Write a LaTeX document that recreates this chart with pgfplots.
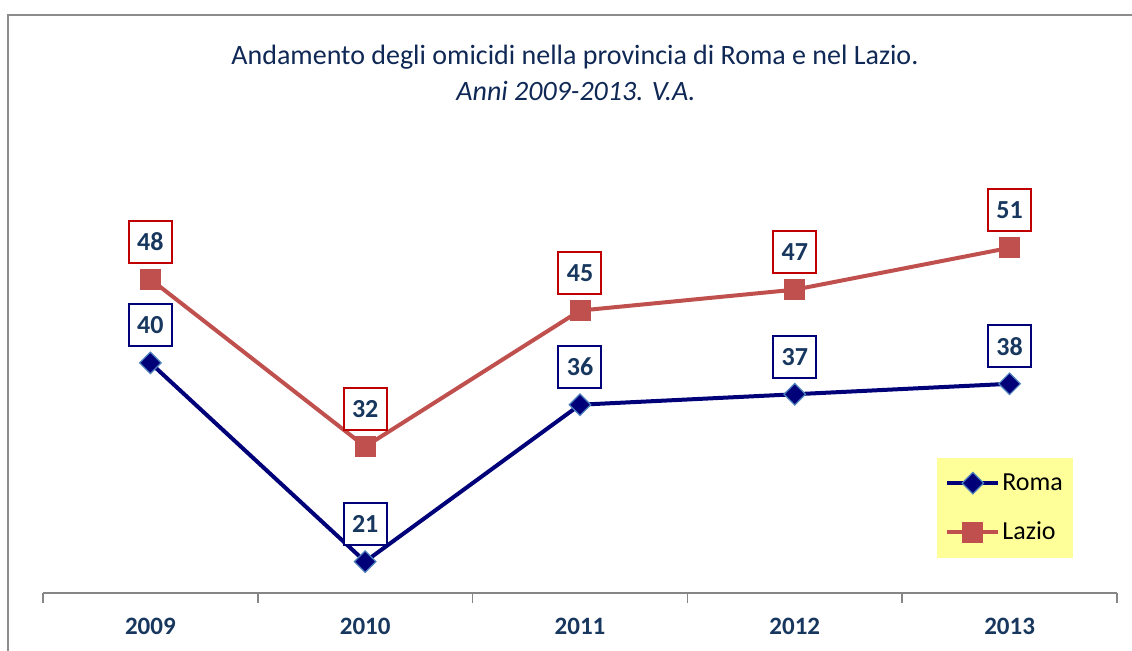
\documentclass[border=0pt]{standalone}
\usepackage{pgfplots}
\pgfplotsset{compat=1.18}
\usepackage{fontspec}
\setmainfont{Carlito}
\definecolor{navytxt}{RGB}{23,55,94}
\definecolor{titlec}{RGB}{15,40,85}
\definecolor{romac}{RGB}{0,0,120}
\definecolor{romaedge}{RGB}{79,129,189}
\definecolor{lazioc}{RGB}{192,80,77}
\definecolor{laziobox}{RGB}{192,0,0}
\definecolor{legyellow}{RGB}{255,255,153}
\definecolor{framegray}{RGB}{140,140,140}
\definecolor{axisgray}{RGB}{134,134,134}
\begin{document}
\begin{tikzpicture}[x=1pt,y=1pt]
\useasboundingbox (0,0) rectangle (566,325.5);
\draw[framegray, line width=1pt] (4,-2) -- (4,318) -- (568,318);
\node[text=titlec, font=\fontsize{14}{16}\selectfont] at (287.5,297) {Andamento degli omicidi nella provincia di Roma e nel Lazio.};
\node[text=titlec, font=\fontsize{14}{16}\selectfont\itshape] at (288,280) {Anni 2009-2013. V.A.};
\begin{axis}[
  at={(21.5pt,29pt)}, anchor=south west,
  scale only axis, width=537pt, height=193.5pt,
  xmin=-0.5, xmax=4.5, ymin=18, ymax=55,
  axis y line=none, axis x line*=bottom,
  x axis line style={axisgray, line width=0.75pt, -},
  xtick={0,1,2,3,4},
  xticklabels={\textbf{2009},\textbf{2010},\textbf{2011},\textbf{2012},\textbf{2013}},
  major tick length=0pt,
  minor xtick={-0.5,0.5,1.5,2.5,3.5,4.5},
  minor tick length=5pt,
  xtick align=outside,
  minor tick style={axisgray, line width=0.75pt},
  clip=false,
  xticklabel style={font=\fontsize{12.5}{15}\selectfont\bfseries, text=navytxt, anchor=base, yshift=-21pt},
  /pgf/number format/assume math mode=true,
  every node near coord/.style={anchor=center, yshift=18.75pt, fill=white, line width=1pt,
     minimum width=21.5pt, minimum height=21pt, inner sep=0pt,
     font=\fontsize{13}{15}\selectfont\bfseries, text=navytxt},
  legend style={at={(0.8324,0.349)}, anchor=north west, fill=legyellow, draw=none,
     font=\fontsize{13}{15}\selectfont, row sep=12.5pt, inner xsep=4pt, inner ysep=6.5pt,
     nodes={inner sep=1pt}},
  legend cell align=left,
  legend image code/.code={\draw[#1, mark repeat=2, mark phase=2] plot coordinates {(0pt,0pt) (12.75pt,0pt) (25.5pt,0pt)};},
]
\addplot[romac, line width=2pt, mark=square*, mark size=3.8pt,
  mark options={rotate=45, fill=romac, draw=romaedge, line width=0.6pt},
  nodes near coords, every node near coord/.append style={draw=romac}]
  coordinates {(0,40) (1,21) (2,36) (3,37) (4,38)};
\addlegendentry{Roma}
\addplot[lazioc, line width=2pt, mark=square*, mark size=5pt,
  mark options={fill=lazioc, draw=lazioc, line width=0.4pt},
  nodes near coords, every node near coord/.append style={draw=laziobox}]
  coordinates {(0,48) (1,32) (2,45) (3,47) (4,51)};
\addlegendentry{Lazio}
\end{axis}
\end{tikzpicture}
\end{document}
